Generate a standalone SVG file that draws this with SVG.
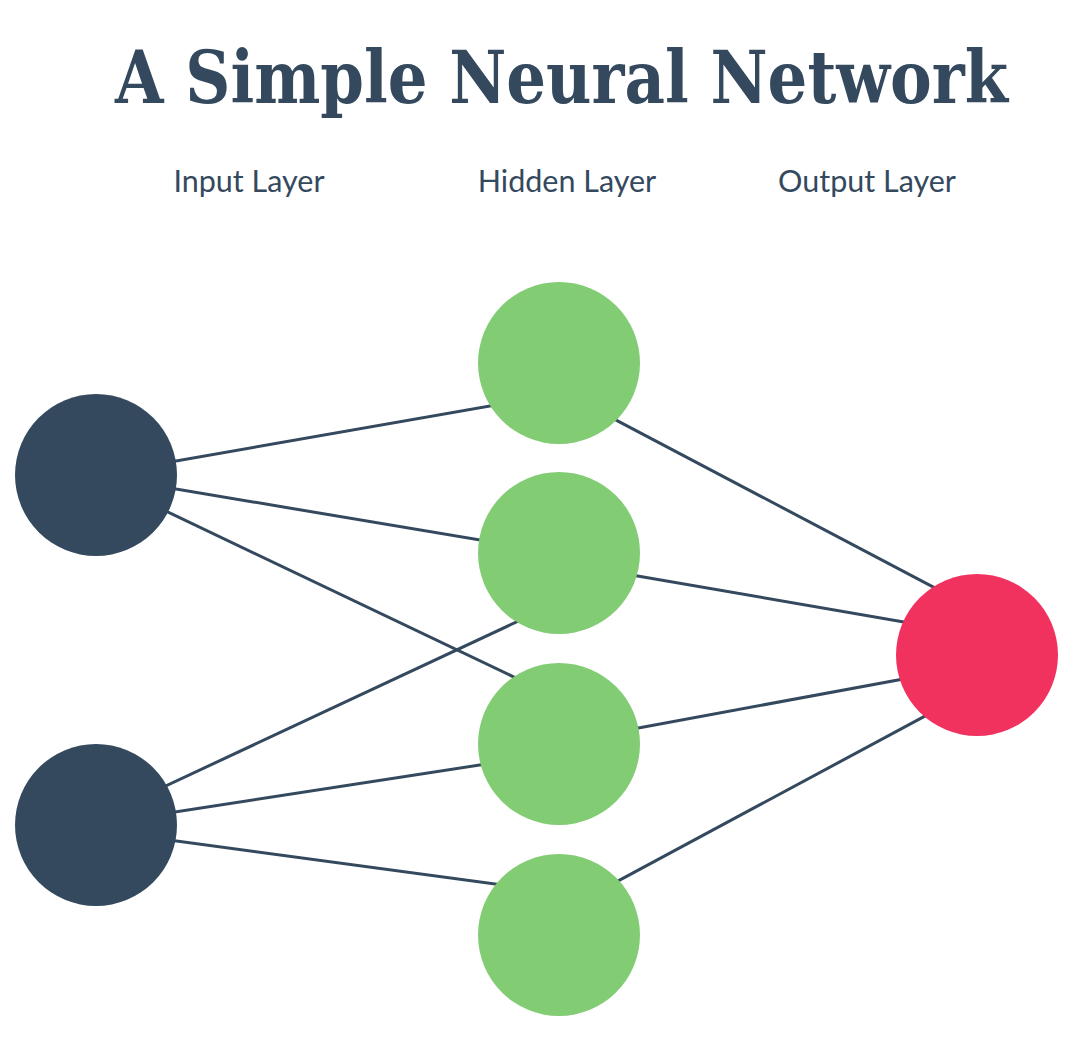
<svg xmlns="http://www.w3.org/2000/svg" width="1084" height="1046" viewBox="0 0 1084 1046">
<style>
.title{font-family:"DejaVu Serif Condensed","DejaVu Serif","Liberation Serif",serif;font-weight:bold;font-size:72px;fill:#34495e}
.lbl{font-family:Lato,"Noto Sans",sans-serif;font-size:30.5px;fill:#34495e;text-anchor:middle}
.edge{stroke:#34495e;stroke-width:3;fill:none}
.in{fill:#34495e}
.hid{fill:#82cc74}
.out{fill:#f1325f}
</style>
<rect width="1084" height="1046" fill="#ffffff"/>
<text class="title" x="115" y="103" textLength="893" lengthAdjust="spacingAndGlyphs">A Simple Neural Network</text>
<text class="lbl" x="249" y="192">Input Layer</text>
<text class="lbl" x="567" y="192">Hidden Layer</text>
<text class="lbl" x="867" y="192">Output Layer</text>
<g id="connectors">
<line class="edge" x1="96" y1="475" x2="520" y2="400.7"/>
<line class="edge" x1="96" y1="475.6" x2="520" y2="546.7"/>
<line class="edge" x1="110" y1="484.4" x2="540" y2="689.5"/>
<line class="edge" x1="110" y1="812" x2="540" y2="611"/>
<line class="edge" x1="110" y1="822" x2="520" y2="758.8"/>
<line class="edge" x1="110" y1="832" x2="530" y2="888.7"/>
<line class="edge" x1="590" y1="406.3" x2="960" y2="601.2"/>
<line class="edge" x1="610" y1="571.2" x2="940" y2="628.3"/>
<line class="edge" x1="610" y1="733.2" x2="940" y2="672.2"/>
<line class="edge" x1="595" y1="893.4" x2="950" y2="702.6"/>
</g>
<g id="input1"><circle class="in" cx="96" cy="475" r="81"/></g>
<g id="input2"><circle class="in" cx="96" cy="825" r="81"/></g>
<g id="hidden1"><circle class="hid" cx="559" cy="363" r="81"/></g>
<g id="hidden2"><circle class="hid" cx="559" cy="553" r="81"/></g>
<g id="hidden3"><circle class="hid" cx="559" cy="744" r="81"/></g>
<g id="hidden4"><circle class="hid" cx="559" cy="935" r="81"/></g>
<g id="output1"><circle class="out" cx="977" cy="655" r="81"/></g>
</svg>
